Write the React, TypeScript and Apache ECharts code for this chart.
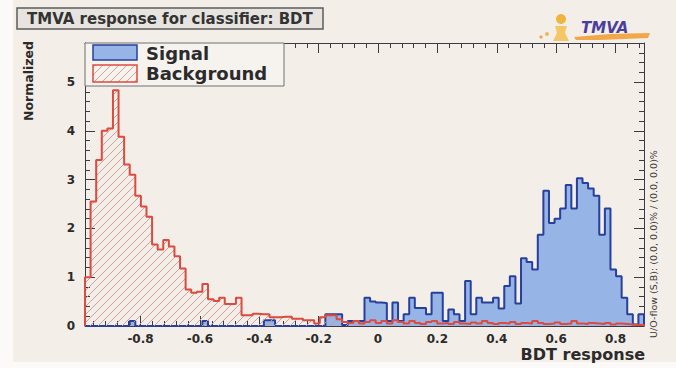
import { useEffect, useRef } from 'react';
import * as echarts from 'echarts';

// ---- data ----
const X_MIN = -0.987;
const X_MAX = 0.896;
const Y_MAX = 5.8;

const SIGNAL = [
  0, 0, 0, 0, 0, 0, 0, 0, 0.1, 0,
  0, 0, 0, 0, 0, 0, 0, 0, 0, 0,
  0, 0.1, 0, 0, 0, 0, 0, 0, 0, 0,
  0, 0, 0.12, 0.12, 0, 0, 0, 0, 0, 0,
  0, 0, 0, 0.24, 0.24, 0.24, 0.02, 0.1, 0.1, 0.1,
  0.58, 0.5, 0.48, 0.47, 0.1, 0.48, 0.1, 0.24, 0.58, 0.37,
  0.37, 0.24, 0.68, 0.68, 0.1, 0.34, 0.24, 0.1, 0.92, 0.24,
  0.58, 0.48, 0.48, 0.58, 0.36, 0.82, 1.02, 0.46, 1.39, 1.31,
  1.16, 1.87, 2.77, 2.11, 2.2, 2.41, 2.89, 2.41, 3.03, 2.93,
  2.82, 2.67, 1.87, 2.41, 1.16, 1.02, 0.58, 0.24, 0.03, 0.24,
];

const BACKGROUND = [
  1.0, 2.55, 3.4, 4.0, 4.05, 4.83, 3.88, 3.31, 3.1, 2.67,
  2.45, 2.24, 1.67, 1.57, 1.76, 1.63, 1.43, 1.18, 0.75, 0.68,
  0.7, 0.86, 0.55, 0.51, 0.58, 0.45, 0.45, 0.58, 0.22, 0.22,
  0.25, 0.24, 0.24, 0.18, 0.18, 0.19, 0.19, 0.15, 0.15, 0.12,
  0.12, 0.05, 0.18, 0.22, 0.22, 0.14, 0.08, 0.06, 0.1, 0.05,
  0.08, 0.12, 0.06, 0.1, 0.05, 0.12, 0.08, 0.05, 0.1, 0.06,
  0.04, 0.08, 0.1, 0.05, 0.06, 0.04, 0.08, 0.05, 0.04, 0.07,
  0.05, 0.1, 0.06, 0.04, 0.06, 0.05, 0.08, 0.04, 0.06, 0.05,
  0.1, 0.06, 0.04, 0.05, 0.07, 0.04, 0.05, 0.1, 0.05, 0.04,
  0.06, 0.05, 0.04, 0.06, 0.03, 0.05, 0.04, 0.03, 0.02, 0.02,
];

const X_MAJOR = [-0.8, -0.6, -0.4, -0.2, 0, 0.2, 0.4, 0.6, 0.8];
const Y_MAJOR = [0, 1, 2, 3, 4, 5];

const TITLE = 'TMVA response for classifier: BDT';
const X_TITLE = 'BDT response';
const Y_TITLE = 'Normalized';
const FLOW_TEXT = 'U/O-flow (S,B): (0.0, 0.0)% / (0.0, 0.0)%';
const SIGNAL_NAME = 'Signal';
const BACKGROUND_NAME = 'Background';

// ---- helpers ----
function steps(first: number, last: number, step: number): number[] {
  const out: number[] = [];
  const n = Math.round((last - first) / step);
  for (let i = 0; i <= n; i++) out.push(+(first + i * step).toFixed(4));
  return out;
}
const X_MINOR = steps(-0.96, 0.88, 0.04);
const Y_MINOR = steps(0, 5.6, 0.2);

function histData(values: number[]): number[][] {
  const bw = (X_MAX - X_MIN) / values.length;
  const pts: number[][] = [[X_MIN, 0]];
  values.forEach((v, i) => pts.push([X_MIN + i * bw, v]));
  pts.push([X_MAX, 0]);
  return pts;
}

const FONT = 'DejaVu Sans';
const AXIS_COLOR = '#3a3a46';
const BLUE_FILL = '#96b4e6';
const BLUE_LINE = '#27409c';
const RED_LINE = '#dd4a40';

const hatchSvg =
  "<svg xmlns='http://www.w3.org/2000/svg' width='8' height='8'>" +
  "<path d='M-2,2 L2,-2 M0,8 L8,0 M6,10 L10,6' stroke='#cd9a91' stroke-width='0.9' fill='none'/></svg>";
const HATCH: any = {
  image: 'data:image/svg+xml;charset=utf-8,' + encodeURIComponent(hatchSvg),
  repeat: 'repeat',
  imageWidth: 8,
  imageHeight: 8,
};

function xAxisDef(position: string, ticks: number[], len: number, showLine: boolean, labels: boolean) {
  return {
    type: 'value',
    min: X_MIN,
    max: X_MAX,
    position,
    axisLine: { show: showLine, onZero: false, lineStyle: { color: AXIS_COLOR, width: 1 } },
    axisTick: { show: true, inside: true, length: len, customValues: ticks, lineStyle: { color: AXIS_COLOR, width: 1 } },
    axisLabel: labels
      ? {
          show: true,
          customValues: X_MAJOR,
          formatter: (v: number) => String(+Number(v).toFixed(1)),
          fontFamily: FONT,
          fontWeight: 'bold',
          fontSize: 12,
          color: '#2b2b2b',
          margin: 7,
        }
      : { show: false },
    splitLine: { show: false },
  };
}

function yAxisDef(position: string, ticks: number[], len: number, showLine: boolean, labels: boolean) {
  return {
    type: 'value',
    min: 0,
    max: Y_MAX,
    position,
    axisLine: { show: showLine, onZero: false, lineStyle: { color: AXIS_COLOR, width: 1 } },
    axisTick: { show: true, inside: true, length: len, customValues: ticks, lineStyle: { color: AXIS_COLOR, width: 1 } },
    axisLabel: labels
      ? {
          show: true,
          customValues: Y_MAJOR,
          formatter: (v: number) => String(Math.round(v)),
          fontFamily: FONT,
          fontWeight: 'bold',
          fontSize: 12,
          color: '#2b2b2b',
          margin: 10,
        }
      : { show: false },
    splitLine: { show: false },
  };
}

export default function App() {
  const ref = useRef<HTMLDivElement>(null);

  useEffect(() => {
    if (!ref.current) return;
    const chart = echarts.init(ref.current, undefined, { renderer: 'svg' });
    chart.setOption({
      animation: false,
      backgroundColor: '#f3eee7',
      grid: { left: 85, top: 43, width: 559, height: 283, containLabel: false },
      xAxis: [
        xAxisDef('bottom', X_MAJOR, 10, true, true),
        xAxisDef('bottom', X_MINOR, 5, false, false),
        xAxisDef('top', X_MAJOR, 10, true, false),
        xAxisDef('top', X_MINOR, 5, false, false),
      ],
      yAxis: [
        yAxisDef('left', Y_MAJOR, 10, true, true),
        yAxisDef('left', Y_MINOR, 5, false, false),
        yAxisDef('right', Y_MAJOR, 10, true, false),
        yAxisDef('right', Y_MINOR, 5, false, false),
      ],
      series: [
        {
          name: SIGNAL_NAME,
          type: 'line',
          xAxisIndex: 0,
          yAxisIndex: 0,
          step: 'end',
          symbol: 'none',
          data: histData(SIGNAL),
          lineStyle: { color: BLUE_LINE, width: 2 },
          areaStyle: { color: BLUE_FILL, opacity: 1 },
          z: 3,
        },
        {
          name: BACKGROUND_NAME,
          type: 'line',
          xAxisIndex: 0,
          yAxisIndex: 0,
          step: 'end',
          symbol: 'none',
          data: histData(BACKGROUND),
          lineStyle: { color: RED_LINE, width: 2 },
          areaStyle: { color: HATCH, opacity: 1 },
          z: 4,
        },
      ],
      graphic: [
        { type: 'rect', silent: true, z: -5, shape: { x: 0, y: 0, width: 13, height: 368 }, style: { fill: '#fbfaf8' } },
        { type: 'rect', silent: true, z: -5, shape: { x: 0, y: 362, width: 676, height: 6 }, style: { fill: '#fbfaf8' } },
        // title box
        {
          type: 'rect', z: 50,
          shape: { x: 17, y: 8, width: 306, height: 21 },
          style: { fill: '#e7e4e0', stroke: '#5c5c5c', lineWidth: 1.5 },
        },
        {
          type: 'text', z: 51, x: 27, y: 19,
          style: { text: TITLE, fontFamily: FONT, fontWeight: 'bold', fontSize: 15, fill: '#333', align: 'left', verticalAlign: 'middle' },
        },
        // legend
        {
          type: 'rect', z: 50,
          shape: { x: 85, y: 43, width: 199, height: 43 },
          style: { fill: '#f6f3ef', stroke: '#707070', lineWidth: 1 },
        },
        {
          type: 'rect', z: 51,
          shape: { x: 93, y: 45, width: 44, height: 15 },
          style: { fill: BLUE_FILL, stroke: BLUE_LINE, lineWidth: 1.5 },
        },
        {
          type: 'rect', z: 51,
          shape: { x: 93, y: 65, width: 44, height: 17 },
          style: { fill: HATCH, stroke: RED_LINE, lineWidth: 1.5 },
        },
        {
          type: 'text', z: 51, x: 146, y: 53,
          style: { text: SIGNAL_NAME, fontFamily: FONT, fontWeight: 'bold', fontSize: 18, fill: '#2b2b2b', align: 'left', verticalAlign: 'middle' },
        },
        {
          type: 'text', z: 51, x: 146, y: 73,
          style: { text: BACKGROUND_NAME, fontFamily: FONT, fontWeight: 'bold', fontSize: 18, fill: '#2b2b2b', align: 'left', verticalAlign: 'middle' },
        },
        // axis titles
        {
          type: 'text', z: 51, x: 28, y: 81, rotation: Math.PI / 2,
          style: { text: Y_TITLE, fontFamily: FONT, fontWeight: 'bold', fontSize: 12.5, fill: '#2b2b2b', align: 'center', verticalAlign: 'middle' },
        },
        {
          type: 'text', z: 51, x: 645, y: 354,
          style: { text: X_TITLE, fontFamily: FONT, fontWeight: 'bold', fontSize: 16, fill: '#2b2b2b', align: 'right', verticalAlign: 'middle' },
        },
        {
          type: 'text', z: 51, x: 653, y: 244, rotation: Math.PI / 2,
          style: { text: FLOW_TEXT, fontFamily: FONT, fontSize: 9.5, fill: '#3a3a3a', align: 'center', verticalAlign: 'middle' },
        },
        // TMVA logo
        { type: 'circle', z: 51, shape: { cx: 541, cy: 37, r: 1.6 }, style: { fill: '#e9a850' } },
        { type: 'circle', z: 51, shape: { cx: 547, cy: 34, r: 2 }, style: { fill: '#eeb860' } },
        { type: 'circle', z: 51, shape: { cx: 561, cy: 19, r: 5 }, style: { fill: '#f0b440' } },
        {
          type: 'polygon', z: 51,
          shape: { points: [[555, 26], [567, 26], [565, 33], [569, 41], [553, 41], [557, 33]] },
          style: { fill: '#f3c766' },
        },
        {
          type: 'polygon', z: 51,
          shape: { points: [[574, 37], [610, 34], [650, 33], [648, 38], [600, 40], [576, 40]] },
          style: { fill: '#f2a848' },
        },
        {
          type: 'text', z: 52, x: 581, y: 28,
          style: { text: 'TMVA', fontFamily: FONT, fontWeight: 'bold', fontStyle: 'italic', fontSize: 15, fill: '#4a3f9c', align: 'left', verticalAlign: 'middle' },
        },
      ],
    });
    return () => chart.dispose();
  }, []);

  return <div ref={ref} style={{ position: 'fixed', left: 0, top: 0, width: 676, height: 368 }} />;
}
